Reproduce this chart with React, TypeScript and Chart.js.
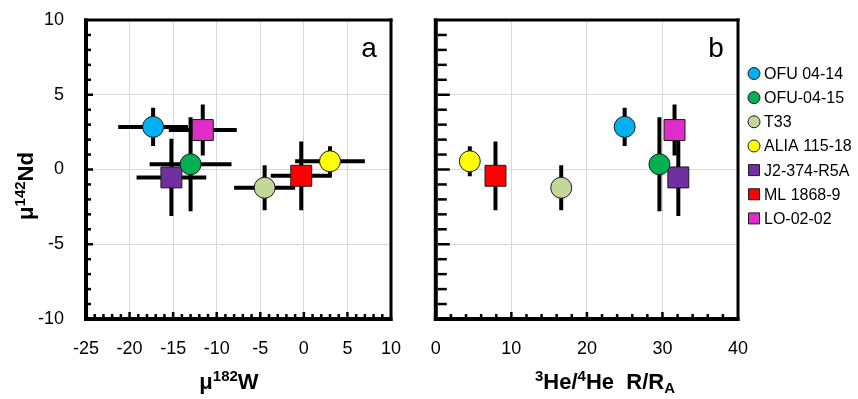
import React, { useEffect, useRef } from "react";
import { Chart, registerables } from "chart.js";

Chart.register(...registerables);

const FONT = "'Liberation Sans', Arial, sans-serif";
Chart.defaults.font.family = FONT;

// ---- data ----
const samples = ["OFU 04-14", "OFU-04-15", "T33", "ALIA 115-18", "J2-374-R5A", "ML 1868-9", "LO-02-02"];
const muW = [-17.3, -13.0, -4.5, 3.0, -15.2, -0.3, -11.6];
const muWErr = [4.0, 4.7, 3.5, 4.0, 4.0, 3.5, 3.9];
const muNd = [2.85, 0.35, -1.22, 0.55, -0.53, -0.42, 2.64];
const muNdErr = [1.28, 3.15, 1.5, 1.0, 2.58, 2.3, 1.7];
const heRA = [25.0, 29.6, 16.6, 4.5, 32.1, 7.9, 31.6];
const colors = ["#00B0F0", "#00B050", "#C4D79B", "#FFFF00", "#7030A0", "#FF0000", "#E02CC8"];
const shapes = ["circle", "circle", "circle", "circle", "rect", "rect", "rect"];

const ndTicks = [-10, -5, 0, 5, 10];
const wTicks = [-25, -20, -15, -10, -5, 0, 5, 10];
const heTicks = [0, 10, 20, 30, 40];

type Seg = { t: string; size: number; dy: number };

function drawRich(ctx: CanvasRenderingContext2D, segs: Seg[], x: number, y: number) {
  let w = 0;
  segs.forEach((s) => {
    ctx.font = `bold ${s.size}px ${FONT}`;
    w += ctx.measureText(s.t).width;
  });
  let cx = x - w / 2;
  ctx.textAlign = "left";
  ctx.textBaseline = "alphabetic";
  segs.forEach((s) => {
    ctx.font = `bold ${s.size}px ${FONT}`;
    ctx.fillText(s.t, cx, y + s.dy);
    cx += ctx.measureText(s.t).width;
  });
}

function makePlugin(isA: boolean) {
  return {
    id: "decor",
    beforeDatasetsDraw(chart: any) {
      const { ctx, chartArea: a, scales } = chart;
      const x = scales.x, y = scales.y;
      ctx.save();
      ctx.beginPath();
      ctx.rect(a.left, a.top, a.right - a.left, a.bottom - a.top);
      ctx.clip();
      ctx.strokeStyle = "#000";
      ctx.lineWidth = 4;
      ctx.lineCap = "butt";
      chart.data.datasets.forEach((ds: any, i: number) => {
        const p = ds.data[0];
        const px = x.getPixelForValue(p.x);
        const py = y.getPixelForValue(p.y);
        ctx.beginPath();
        if (isA) {
          ctx.moveTo(x.getPixelForValue(p.x - muWErr[i]), py);
          ctx.lineTo(x.getPixelForValue(p.x + muWErr[i]), py);
        }
        ctx.moveTo(px, y.getPixelForValue(p.y + muNdErr[i]));
        ctx.lineTo(px, y.getPixelForValue(p.y - muNdErr[i]));
        ctx.stroke();
      });
      ctx.restore();
    },
    afterDraw(chart: any) {
      const { ctx, chartArea: a, scales } = chart;
      const x = scales.x, y = scales.y;
      ctx.save();
      ctx.fillStyle = "#000";
      // inner ticks on y
      const yMinor = isA ? [3, 5] : [9, 12];
      for (let v = y.min + 1; v < y.max; v += 1) {
        const len = v % 5 === 0 ? yMinor[1] : yMinor[0];
        const py = y.getPixelForValue(v);
        ctx.fillRect(a.left + 2, py - 1.25, len, 2.5);
      }
      // inner ticks on x
      const step = isA ? 1 : 2;
      const major = isA ? 5 : 10;
      for (let v = x.min + step; v < x.max; v += step) {
        const len = Math.abs(v % major) < 1e-9 ? 5 : 3;
        const px = x.getPixelForValue(v);
        ctx.fillRect(px - 1.25, a.bottom - 2 - len, 2.5, len);
      }
      // frame
      const w = a.right - a.left, h = a.bottom - a.top;
      ctx.fillRect(a.left - 2, a.top - 1.5, w + 3.5, 3);
      ctx.fillRect(a.right - 1.5, a.top - 1.5, 3, h + 3.5);
      ctx.fillRect(a.left - 2, a.top - 1.5, 4, h + 3.5);
      ctx.fillRect(a.left - 2, a.bottom - 2, w + 3.5, 4);

      // panel letter
      ctx.font = `28px ${FONT}`;
      ctx.textAlign = "center";
      ctx.textBaseline = "alphabetic";
      ctx.fillText(isA ? "a" : "b", a.right - 22, 57);

      if (isA) {
        // y title
        ctx.save();
        ctx.translate(33, 186);
        ctx.rotate(-Math.PI / 2);
        drawRich(ctx, [
          { t: "μ", size: 22, dy: 0 },
          { t: "142", size: 15, dy: -8 },
          { t: "Nd", size: 22, dy: 0 },
        ], 0, 0);
        ctx.restore();
        drawRich(ctx, [
          { t: "μ", size: 22, dy: 0 },
          { t: "182", size: 15, dy: -8 },
          { t: "W", size: 22, dy: 0 },
        ], 229, 389);
      } else {
        drawRich(ctx, [
          { t: "3", size: 15, dy: -8 },
          { t: "He/", size: 22, dy: 0 },
          { t: "4", size: 15, dy: -8 },
          { t: "He  R/R", size: 22, dy: 0 },
          { t: "A", size: 15, dy: 4 },
        ], 605 - 420, 389);
        // legend
        const mx = 334, tx = 344;
        samples.forEach((name, i) => {
          const cy = 73.5 + i * 24.15;
          ctx.fillStyle = colors[i];
          ctx.strokeStyle = "#1a1a1a";
          ctx.lineWidth = 1;
          ctx.beginPath();
          if (shapes[i] === "circle") {
            ctx.arc(mx, cy, 6, 0, Math.PI * 2);
          } else {
            ctx.rect(mx - 5.5, cy - 5.5, 11, 11);
          }
          ctx.fill();
          ctx.stroke();
          ctx.fillStyle = "#000";
          ctx.font = `16px ${FONT}`;
          ctx.textAlign = "left";
          ctx.textBaseline = "middle";
          ctx.fillText(name, tx, cy + 1);
        });
      }
      ctx.restore();
    },
  };
}

function zeroPad(s: any) {
  s.paddingTop = 0;
  s.paddingBottom = 0;
  s.paddingLeft = 0;
  s.paddingRight = 0;
}

function makeConfig(isA: boolean): any {
  const xs = isA ? muW : heRA;
  const xTicks = isA ? wTicks : heTicks;
  const datasets = samples.map((name, i) => ({
    label: name,
    data: [{ x: xs[i], y: muNd[i] }],
    backgroundColor: colors[i],
    borderColor: "#1a1a1a",
    borderWidth: 1,
    pointStyle: shapes[i],
    pointRadius: shapes[i] === "rect" ? 14.8 : 10.5,
    pointHoverRadius: shapes[i] === "rect" ? 14.8 : 10.5,
  }));
  return {
    type: "scatter",
    data: { datasets },
    options: {
      animation: false,
      responsive: false,
      events: [],
      layout: { padding: { top: 20, right: isA ? 29 : 120, left: 0, bottom: 0 } },
      plugins: { legend: { display: false }, tooltip: { enabled: false } },
      scales: {
        x: {
          type: "linear",
          min: xTicks[0],
          max: xTicks[xTicks.length - 1],
          afterBuildTicks: (s: any) => {
            s.ticks = xTicks.map((v) => ({ value: v }));
          },
          afterFit: (s: any) => {
            s.height = 80;
            zeroPad(s);
          },
          ticks: { font: { size: 18 }, color: "#000", padding: 19, maxRotation: 0, autoSkip: false },
          grid: { color: "#d9d9d9", lineWidth: 1, drawTicks: false },
          border: { display: false },
        },
        y: {
          type: "linear",
          min: ndTicks[0],
          max: ndTicks[ndTicks.length - 1],
          afterBuildTicks: (s: any) => {
            s.ticks = ndTicks.map((v) => ({ value: v }));
          },
          afterFit: (s: any) => {
            s.width = isA ? 86 : 13;
            zeroPad(s);
          },
          ticks: { display: isA, font: { size: 18 }, color: "#000", padding: 22 },
          grid: { color: "#d9d9d9", lineWidth: 1, drawTicks: false },
          border: { display: false },
        },
      },
    },
    plugins: [makePlugin(isA)],
  };
}

export default function App() {
  const refA = useRef<HTMLCanvasElement>(null);
  const refB = useRef<HTMLCanvasElement>(null);
  useEffect(() => {
    const ca = new Chart(refA.current as HTMLCanvasElement, makeConfig(true));
    const cb = new Chart(refB.current as HTMLCanvasElement, makeConfig(false));
    return () => {
      ca.destroy();
      cb.destroy();
    };
  }, []);
  return (
    <div style={{ position: "absolute", left: 0, top: 0, width: 858, height: 399, background: "#fff" }}>
      <canvas ref={refA} width={420} height={399} style={{ position: "absolute", left: 0, top: 0, width: 420, height: 399 }} />
      <canvas ref={refB} width={438} height={399} style={{ position: "absolute", left: 420, top: 0, width: 438, height: 399 }} />
    </div>
  );
}
